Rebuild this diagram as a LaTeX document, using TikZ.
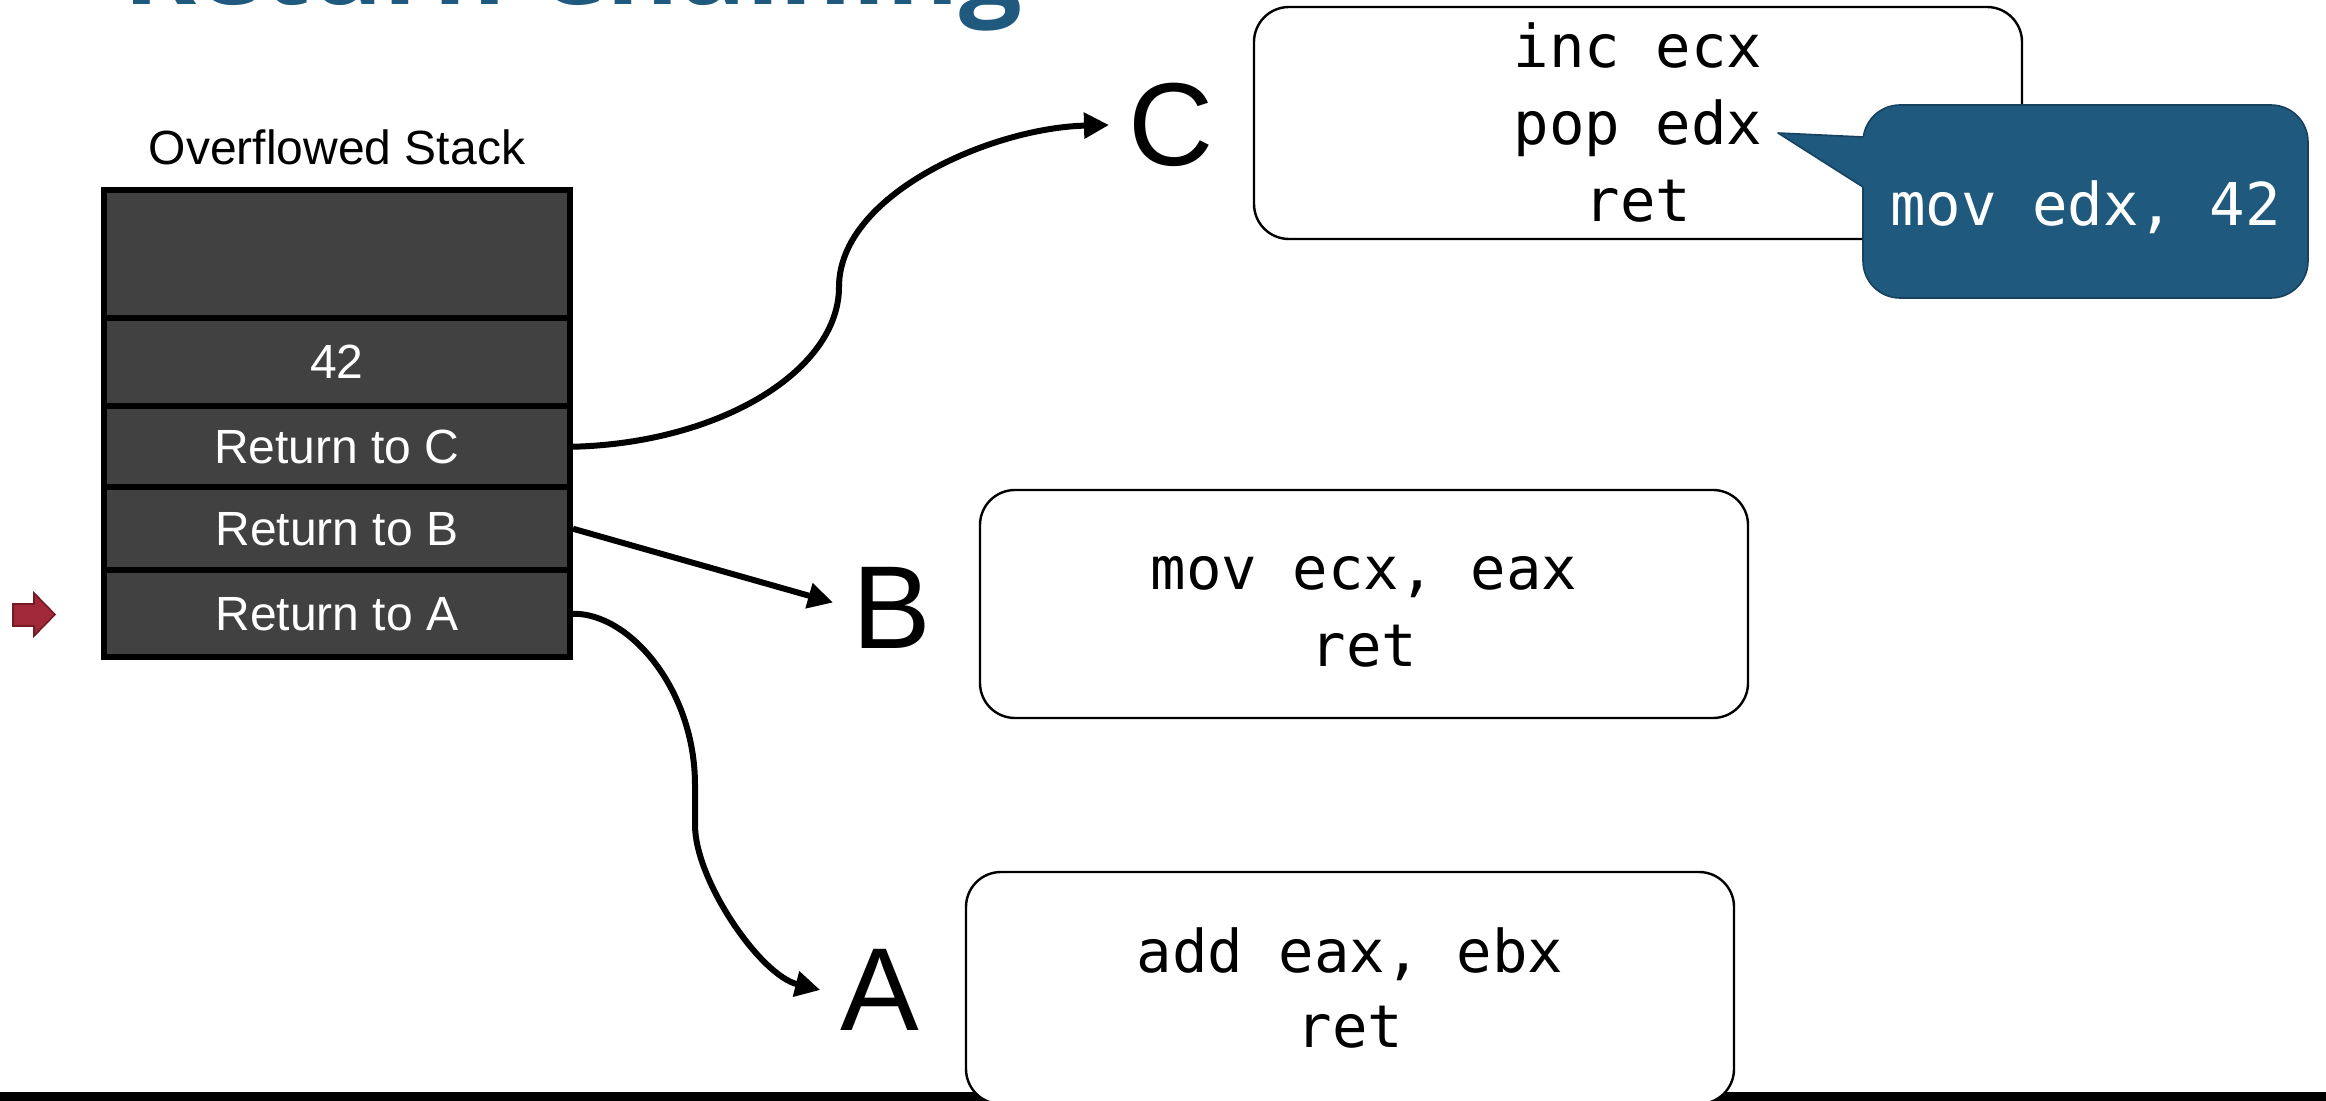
\documentclass[tikz,border=0pt]{standalone}
\usepackage{fontspec}
\setmainfont{Liberation Sans}
\newfontfamily\codefont{DejaVu Sans Mono}
\newfontfamily\titlefont{Open Sans}
\usetikzlibrary{arrows.meta}
\definecolor{slateblue}{RGB}{31,89,125}
\definecolor{calloutedge}{RGB}{22,66,95}
\definecolor{cellgray}{RGB}{65,65,65}
\definecolor{spred}{RGB}{160,40,55}
\definecolor{spredge}{RGB}{118,26,38}

\begin{document}
\begin{tikzpicture}[x=0.5pt,y=-0.5pt,
  cell/.style={draw=black, line width=3pt, fill=cellgray, minimum width=233.25pt,
    inner sep=0pt, text=white, font=\fontsize{24}{28}\selectfont},
  codebox/.style={draw=black, line width=1.2pt, fill=white, rounded corners=17.5pt,
    minimum width=384pt, minimum height=116pt, inner sep=0pt},
  codeline/.style={anchor=base, inner sep=0pt, font=\codefont\fontsize{29.5}{35}\selectfont},
  target/.style={inner sep=0pt, font=\fontsize{59}{70}\selectfont},
  link/.style={line width=3pt, -{Triangle[length=12.5pt,width=12.5pt]}},
]
\useasboundingbox (0,0) rectangle (2326,1101);
\clip (0,0) rectangle (2326,1101);

% slide title, mostly above the visible area
\node[anchor=base west, inner sep=0pt, text=slateblue,
  font=\titlefont\bfseries\fontsize{55.5}{60}\selectfont] (title) at (123,5) {Return Chaining};

% the overflowed stack
\node[anchor=base, inner sep=0pt, font=\fontsize{24}{28}\selectfont] (stacklabel) at (337,165) {Overflowed Stack};
\node[cell, minimum height=63.75pt] (slot) at (336.75,254.25) {};
\node[cell, minimum height=44pt] (v42) at (336.75,362) {42};
\node[cell, minimum height=40.75pt] (retC) at (336.75,446.75) {Return to C};
\node[cell, minimum height=41.25pt] (retB) at (336.75,528.75) {Return to B};
\node[cell, minimum height=43.75pt] (retA) at (336.75,613.75) {Return to A};

% stack pointer marker
\draw[fill=spred, draw=spredge, line width=0.8pt]
  (13,604) -- (34,604) -- (34,593) -- (55,614.5) -- (34,636) -- (34,626) -- (13,626) -- cycle;

% gadget labels
\node[target] (C) at (1171,125) {C};
\node[target] (B) at (892,608) {B};
\node[target] (A) at (880,990) {A};

% bottom bar
\fill[black] (0,1092) rectangle (2326,1110);

% gadgets
\node[codebox] (boxC) at (1638,123) {};
\node[codeline] (c1) at (1638,68) {inc ecx};
\node[codeline] (c2) at (1638,145) {pop edx};
\node[codeline] (c3) at (1638,222) {ret};

\node[codebox, minimum height=114pt] (boxB) at (1364,604) {};
\node[codeline] (b1) at (1364,590) {mov ecx, eax};
\node[codeline] (b2) at (1364,667) {ret};

\node[codebox] (boxA) at (1350,988) {};
\node[codeline] (a1) at (1350,972) {add eax, ebx};
\node[codeline] (a2) at (1350,1047) {ret};

% return links
\draw[link] (retC.east) .. controls (721,443) and (839,370) .. (839,287)
  .. controls (839,195) and (990,128) .. ([xshift=-9.5pt]C.west);
\draw[link, shorten >=10pt] (retB.east) -- (B.west);
\draw[link] (retA.east) .. controls (630,613) and (695,690) .. (695,785) -- (695,825)
  .. controls (695,880) and (760,975) .. ([xshift=-10pt]A.west);

% callout on pop edx
\node[draw=calloutedge, line width=0.8pt, fill=slateblue, rounded corners=18.5pt,
  minimum width=222.5pt, minimum height=96.5pt, inner sep=0pt] (note) at (2085.5,201.5) {};
\fill[slateblue] (1778,133) -- (1863,137) -- (1868,137) -- (1868,187) -- (1863,187) -- cycle;
\draw[calloutedge, line width=0.8pt, line join=round] (1863,137) -- (1778,133) -- (1863,187);
\node[codeline, text=white] (notetext) at (2085.5,226) {mov edx, 42};
\end{tikzpicture}
\end{document}
